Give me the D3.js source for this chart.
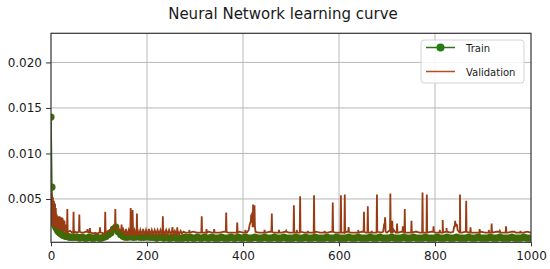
<!DOCTYPE html>
<meta charset="utf-8">
<style>
body { margin: 0; background: #fff; }
text { font-family: "DejaVu Sans", sans-serif; fill: #1a1a1a; }
.grid line { stroke: #b8b8b8; stroke-width: 1; }
.axis path { display: none; }
.axis line { stroke: #333; }
.axis text { font-size: 12px; }
</style>
<svg width="550" height="269"></svg>
<script src="https://d3js.org/d3.v7.min.js"></script>
<script>
// train loss: first epochs listed one by one, then one value every 5 epochs from 50
var trainHead = [[0,0.0140],[2,0.0063],[3,0.0042],[4,0.0033],[5,0.0029],[6,0.0026],[7,0.0024],[8,0.0021],[10,0.0019],
  [12,0.0017],[14,0.0015],[16,0.0014],[18,0.0013],[20,0.0012],[23,0.0011],[26,0.0010],[30,0.0009],[34,0.0009],
  [38,0.0008],[42,0.0008],[46,0.0008]];
var trainTail = [
  .0008,.0008,.0007,.0008,.0007,.0007,.0008,.0007,.0007,.0008,.0007,.0007,.0008,.0009,
  .0011,.0013,.0017,.0019,.0014,.0011,
  .0009,.0008,.0008,.0009,.0008,.0008,.0009,.0008,.0008,.0008,.0009,.0008,.0008,.0008,.0007,.0008,.0008,.0007,.0008,.0007,.0007,.0008,.0007,.0007,.0007,.0007,
  .0008,.0007,.0008,.0007,.0007,.0008,.0007,.0007,.0008,.0007,
  .0007,.0008,.0007,.0007,.0007,.0008,.0007,.0007,.0007,.0008,
  .0007,.0007,.0008,.0007,.0007,.0008,.0007,.0007,.0007,.0008,
  .0007,.0007,.0007,.0008,.0007,.0007,.0007,.0008,.0007,.0007,
  .0007,.0008,.0007,.0007,.0007,.0007,.0008,.0007,.0007,.0007,
  .0008,.0007,.0007,.0007,.0008,.0007,.0007,.0007,.0007,.0008,
  .0007,.0007,.0007,.0008,.0007,.0007,.0007,.0007,.0008,.0007,
  .0007,.0007,.0008,.0007,.0007,.0007,.0007,.0008,.0007,.0007,
  .0007,.0008,.0007,.0007,.0007,.0007,.0008,.0007,.0007,.0007,
  .0007,.0008,.0007,.0007,.0007,.0008,.0007,.0007,.0007,.0007,
  .0008,.0007,.0007,.0007,.0007,.0008,.0007,.0007,.0007,.0008,
  .0007,.0007,.0007,.0008,.0007,.0007,.0007,.0007,.0008,.0007,
  .0007,.0007,.0008,.0007,.0007,.0007,.0007,.0008,.0007,.0007,
  .0007,.0008,.0007,.0007,.0007,.0007,.0008,.0007,.0007,.0007,
  .0007,.0008,.0007,.0007,.0007];

// validation loss: base level [epoch, value]
var valBase = [[0,.0057],[1,.0022],[2,.0055],[3,.0021],[4,.0052],[5,.0020],[6,.0048],[7,.0019],[8,.0045],[9,.0019],
  [10,.0040],[11,.0018],[12,.0033],[13,.0017],[14,.0031],[15,.0017],[16,.0031],[17,.0016],[18,.0031],[19,.0016],
  [20,.0030],[21,.0016],[22,.0030],[23,.0015],[24,.0029],[25,.0015],[26,.0027],[27,.0014],[28,.0026],[29,.0014],
  [30,.0022],[31,.0013],[32,.0019],[33,.0013],
  [36,.0014],[40,.0015],[44,.0013],[50,.0014],[54,.0013],[58,.0014],[64,.0013],[68,.0013],[72,.0014],[78,.0013],
  [84,.0013],[88,.0012],[92,.0013],[96,.0012],[100,.0013],[106,.0013],[110,.0012],[116,.0014],[120,.0015],[124,.0016],
  [128,.0017],[132,.0018],[138,.0017],[142,.0016],[146,.0015],
  [150,.0017],[153,.0010],[156,.0017],[159,.0010],[162,.0016],[165,.0010],[168,.0017],[171,.0010],[174,.0016],[177,.0010],
  [180,.0017],[183,.0010],[186,.0016],[189,.0010],[192,.0017],[195,.0010],[198,.0016],[201,.0010],[204,.0017],[207,.0010],
  [210,.0016],[213,.0011],[216,.0016],[219,.0011],[222,.0016],[225,.0011],[228,.0016],[231,.0011],[234,.0016],[237,.0011],
  [240,.0016],[243,.0011],[246,.0016],[249,.0011],[252,.0015],[255,.0011],[258,.0015],[261,.0011],[264,.0015],[267,.0011],
  [270,.0015],[273,.0012],[276,.0014],
  [280,.0013],[288,.0013],[296,.0014],[304,.0013],[312,.0013],[320,.0013],[328,.0014],[336,.0013],[344,.0013],[352,.0013],
  [360,.0014],[368,.0013],[376,.0013],[384,.0013],[392,.0014],[400,.0013],[408,.0013],[412,.0016],[414,.0022],[416,.0025],
  [420,.0020],[426,.0014],[432,.0013],[440,.0013],[448,.0013],[456,.0014],[464,.0013],[472,.0013],[480,.0013],[488,.0014],
  [496,.0013],[504,.0013],[512,.0013],[520,.0014],[528,.0013],[536,.0013],[544,.0013],[552,.0014],[560,.0013],[568,.0013],
  [576,.0013],[584,.0014],[592,.0013],[600,.0013],[608,.0013],[616,.0014],[624,.0013],[632,.0013],[640,.0013],[648,.0014],
  [656,.0013],[664,.0013],[672,.0013],[680,.0014],[688,.0013],[692,.0014],[694,.0022],[697,.0014],[700,.0013],[704,.0015],
  [708,.0013],[714,.0016],[718,.0013],[724,.0013],[730,.0014],[736,.0013],[744,.0013],[752,.0013],[760,.0014],[768,.0013],
  [776,.0013],[784,.0013],[792,.0014],[800,.0013],[808,.0013],[816,.0013],[824,.0014],[832,.0013],[838,.0014],[840,.0020],
  [843,.0022],[847,.0016],[852,.0013],[856,.0013],[864,.0014],[872,.0013],[880,.0013],[888,.0013],[896,.0014],[904,.0013],
  [912,.0013],[920,.0013],[928,.0014],[936,.0013],[944,.0013],[952,.0013],[960,.0014],[968,.0013],[976,.0013],[984,.0013],
  [992,.0014],[1000,.0013]];

// validation spikes [epoch, peak]
var valSpikes = [[34,.0039],[47,.0036],[59,.0033],[76,.0017],[81,.0018],[102,.0019],[113,.0036],[134,.0039],[147,.0022],
  [166,.0040],[170,.0038],[179,.0034],[233,.0031],[253,.0019],[263,.0019],[288,.0016],[314,.0031],[324,.0017],[340,.0017],
  [365,.0035],[388,.0024],[405,.0016],[417,.0033],[419,.0035],[421,.0044],[424,.0043],[445,.0016],[460,.0034],[475,.0016],
  [490,.0015],[506,.0043],[512,.0016],[519,.0053],[535,.0015],[548,.0054],[570,.0015],[587,.0046],[604,.0054],[612,.0055],
  [620,.0019],[640,.0016],[652,.0036],[660,.0042],[668,.0015],[679,.0055],[696,.0030],[707,.0056],[711,.0026],[721,.0023],
  [733,.0020],[737,.0039],[751,.0026],[760,.0015],[774,.0057],[783,.0055],[797,.0020],[810,.0016],[816,.0027],[824,.0018],
  [842,.0026],[845,.0020],[852,.0055],[865,.0048],[874,.0019],[893,.0017],[912,.0016],[918,.0023],[935,.0015],[948,.0020],
  [965,.0014],[978,.0015]];

var xTicks = [0, 200, 400, 600, 800, 1000];
var yTicks = [0.005, 0.010, 0.015, 0.020];

var trainColor = "#3e6a08", valColor = "#983c14";

var svg = d3.select("svg");
var pLeft = 51, pRight = 531, pTop = 33.3, pBottom = 242.3;

var x = d3.scaleLinear().domain([0, 1000]).range([pLeft, pRight]);
var y = d3.scaleLinear().domain([0.00024, 0.0232]).range([pBottom, pTop]);

// build series
var train = trainHead.concat(trainTail.map(function(v, i) { return [50 + i * 5, v]; }));

var baseAt = function(e) {
  var b = valBase[0][1];
  for (var i = 0; i < valBase.length; i++) { if (valBase[i][0] <= e) b = valBase[i][1]; }
  return b;
};
var val = valBase.slice();
valSpikes.forEach(function(s) {
  var b = baseAt(s[0]);
  val.push([s[0] - 0.8, b], [s[0], s[1]], [s[0] + 0.8, b]);
});
val.sort(function(a, b) { return a[0] - b[0]; });

// grid
var grid = svg.append("g").attr("class", "grid");
grid.selectAll("line.v").data(xTicks.slice(1, -1)).enter().append("line").attr("class", "v")
    .attr("x1", d => x(d)).attr("x2", d => x(d)).attr("y1", pTop).attr("y2", pBottom);
grid.selectAll("line.h").data(yTicks).enter().append("line").attr("class", "h")
    .attr("x1", pLeft).attr("x2", pRight).attr("y1", d => y(d)).attr("y2", d => y(d));

svg.append("clipPath").attr("id", "clip")
  .append("rect").attr("x", pLeft).attr("y", pTop).attr("width", pRight - pLeft).attr("height", pBottom - pTop);

var plot = svg.append("g").attr("clip-path", "url(#clip)");
var line = d3.line().x(d => x(d[0])).y(d => y(d[1]));

plot.append("path").datum(train)
  .attr("d", line).attr("fill", "none").attr("stroke", trainColor).attr("stroke-width", 1.5);
plot.append("g").selectAll("circle").data(train).enter().append("circle")
  .attr("cx", d => x(d[0])).attr("cy", d => y(d[1])).attr("r", 3.6).attr("fill", trainColor);

plot.append("path").datum(val)
  .attr("d", line).attr("fill", "none").attr("stroke", valColor).attr("stroke-width", 1.8);

// axes
svg.append("g").attr("class", "axis").attr("transform", "translate(0," + pBottom + ")")
  .call(d3.axisBottom(x).tickValues(xTicks).tickSize(4).tickPadding(5).tickFormat(d3.format("d")));
svg.append("g").attr("class", "axis").attr("transform", "translate(" + pLeft + ",0)")
  .call(d3.axisLeft(y).tickValues(yTicks).tickSize(5).tickPadding(4).tickFormat(d3.format(".3f")));

svg.append("rect").attr("x", pLeft).attr("y", pTop).attr("width", pRight - pLeft).attr("height", pBottom - pTop)
  .attr("fill", "none").attr("stroke", "#333").attr("stroke-width", 1.2);

// title
svg.append("text").attr("x", 283).attr("y", 19).attr("text-anchor", "middle")
  .style("font-size", "15px").text("Neural Network learning curve");

// legend
var lg = svg.append("g");
lg.append("rect").attr("x", 421).attr("y", 40).attr("width", 103).attr("height", 43).attr("rx", 3)
  .attr("fill", "#fff").attr("fill-opacity", 0.85).attr("stroke", "#d4d4d4");
lg.append("line").attr("x1", 426).attr("x2", 455).attr("y1", 47.5).attr("y2", 47.5)
  .attr("stroke", "#257a14").attr("stroke-width", 1.5);
lg.append("circle").attr("cx", 440.5).attr("cy", 47.5).attr("r", 4).attr("fill", "#257a14");
lg.append("text").attr("x", 466).attr("y", 51.5).style("font-size", "10px").text("Train");
lg.append("line").attr("x1", 426).attr("x2", 455).attr("y1", 71.5).attr("y2", 71.5)
  .attr("stroke", "#b94a1e").attr("stroke-width", 1.5);
lg.append("text").attr("x", 466).attr("y", 75.5).style("font-size", "10px").text("Validation");
</script>
